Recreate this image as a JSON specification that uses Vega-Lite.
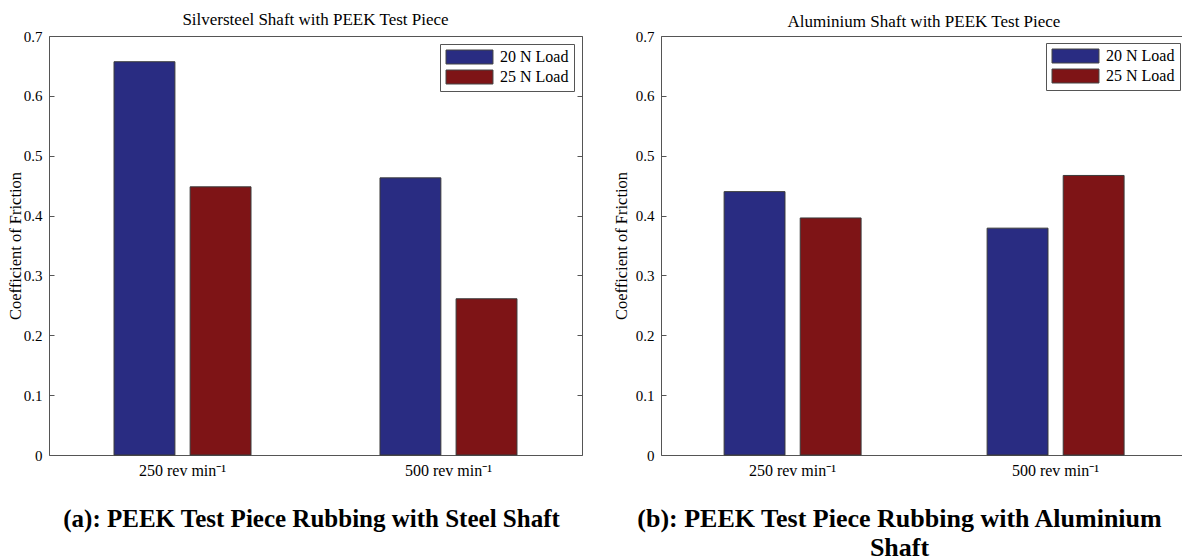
{
  "$schema": "https://vega.github.io/schema/vega-lite/v6.json",
  "padding": {"left": 6, "top": 10, "right": 0, "bottom": 0},
  "background": "white",
  "spacing": 29,
  "align": "none",
  "resolve": {"scale": {"color": "independent"}, "legend": {"color": "independent"}},
  "config": {
    "font": "Liberation Serif",
    "view": {"stroke": "#555555", "strokeWidth": 1},
    "axis": {"labelColor": "black", "titleColor": "black", "labelFont": "Liberation Serif", "titleFont": "Liberation Serif", "grid": false, "domain": false, "tickColor": "#555555"},
    "title": {"font": "Liberation Serif", "fontWeight": "normal", "color": "black"}
  },
  "datasets": {
    "steel": [
      {"speed": "250 rev min⁻¹", "load": "20 N Load", "cof": 0.657},
      {"speed": "250 rev min⁻¹", "load": "25 N Load", "cof": 0.448},
      {"speed": "500 rev min⁻¹", "load": "20 N Load", "cof": 0.463},
      {"speed": "500 rev min⁻¹", "load": "25 N Load", "cof": 0.261}
    ],
    "alu": [
      {"speed": "250 rev min⁻¹", "load": "20 N Load", "cof": 0.44},
      {"speed": "250 rev min⁻¹", "load": "25 N Load", "cof": 0.396},
      {"speed": "500 rev min⁻¹", "load": "20 N Load", "cof": 0.379},
      {"speed": "500 rev min⁻¹", "load": "25 N Load", "cof": 0.467}
    ]
  },
  "hconcat": [
    {
      "width": 533,
      "height": 419,
      "data": {"name": "steel"},
      "title": {"text": "Silversteel Shaft with PEEK Test Piece", "fontSize": 17, "offset": 0},
      "layer": [
        {
          "mark": {"type": "bar", "stroke": "#3a3a3a", "strokeWidth": 1},
          "encoding": {
            "x": {"field": "speed", "type": "nominal", "sort": null,
              "scale": {"paddingInner": 0.485, "paddingOuter": 0.2445},
              "axis": {"labelAngle": 0, "ticks": false, "labelFontSize": 16, "labelPadding": 7,
                "title": "(a): PEEK Test Piece Rubbing with Steel Shaft", "titleFontSize": 25, "titleFontWeight": "bold", "titlePadding": 28, "titleX": 262}},
            "xOffset": {"field": "load", "type": "nominal", "scale": {"paddingInner": 0.2, "paddingOuter": 0}},
            "y": {"field": "cof", "type": "quantitative", "scale": {"domain": [0, 0.7], "nice": false},
              "axis": {"values": [0, 0.1, 0.2, 0.3, 0.4, 0.5, 0.6, 0.7], "format": "~g", "tickSize": -5, "labelPadding": 12, "labelFontSize": 15,
                "title": "Coefficient of Friction", "titleFontSize": 16.5, "titleFontWeight": "normal", "titlePadding": 0}},
            "color": {"field": "load", "type": "nominal",
              "scale": {"domain": ["20 N Load", "25 N Load"], "range": ["#292c82", "#7e1416"]},
              "legend": {"title": null, "orient": "top-right", "offset": 8, "padding": 5, "strokeColor": "#555555", "fillColor": "white",
                "symbolType": "M-1,-1H5.71V1H-1Z", "symbolSize": 196, "symbolStrokeColor": "#444444", "symbolStrokeWidth": 1, "symbolOpacity": 1,
                "labelFont": "Liberation Serif", "labelFontSize": 16, "labelColor": "black", "labelOffset": 39, "rowPadding": 2}}
          }
        },
        {
          "mark": {"type": "bar", "opacity": 0},
          "encoding": {
            "x": {"field": "speed", "type": "nominal", "sort": null,
              "axis": {"labelAngle": 0, "ticks": false, "labelFontSize": 16, "labelPadding": 7,
                "title": "(a): PEEK Test Piece Rubbing with Steel Shaft", "titleFontSize": 25, "titleFontWeight": "bold", "titlePadding": 28, "titleX": 262}},
            "xOffset": {"field": "load", "type": "nominal"},
            "y": {"field": "cof", "type": "quantitative", "axis": {"orient": "right", "values": [0, 0.1, 0.2, 0.3, 0.4, 0.5, 0.6, 0.7], "labels": false, "tickSize": -5, "title": null}}
          }
        }
      ],
      "resolve": {"axis": {"y": "independent"}}
    },
    {
      "width": 526,
      "height": 419,
      "data": {"name": "alu"},
      "title": {"text": "Aluminium Shaft with PEEK Test Piece", "fontSize": 17, "offset": -2},
      "layer": [
        {
          "mark": {"type": "bar", "stroke": "#3a3a3a", "strokeWidth": 1},
          "encoding": {
            "x": {"field": "speed", "type": "nominal", "sort": null,
              "scale": {"paddingInner": 0.48, "paddingOuter": 0.24},
              "axis": {"labelAngle": 0, "ticks": false, "labelFontSize": 16, "labelPadding": 7,
                "title": ["(b): PEEK Test Piece Rubbing with Aluminium", "Shaft"], "titleFontSize": 26, "titleFontWeight": "bold", "titleLineHeight": 29, "titlePadding": 27, "titleX": 238}},
            "xOffset": {"field": "load", "type": "nominal", "scale": {"paddingInner": 0.2, "paddingOuter": 0}},
            "y": {"field": "cof", "type": "quantitative", "scale": {"domain": [0, 0.7], "nice": false},
              "axis": {"values": [0, 0.1, 0.2, 0.3, 0.4, 0.5, 0.6, 0.7], "format": "~g", "tickSize": -5, "labelPadding": 12, "labelFontSize": 15,
                "title": "Coefficient of Friction", "titleFontSize": 16.5, "titleFontWeight": "normal", "titlePadding": 6}},
            "color": {"field": "load", "type": "nominal",
              "scale": {"domain": ["20 N Load", "25 N Load"], "range": ["#292c82", "#7e1416"]},
              "legend": {"title": null, "orient": "top-right", "offset": 7, "padding": 5, "strokeColor": "#555555", "fillColor": "white",
                "symbolType": "M-1,-1H5.71V1H-1Z", "symbolSize": 196, "symbolStrokeColor": "#444444", "symbolStrokeWidth": 1, "symbolOpacity": 1,
                "labelFont": "Liberation Serif", "labelFontSize": 16, "labelColor": "black", "labelOffset": 39, "rowPadding": 2}}
          }
        },
        {
          "mark": {"type": "bar", "opacity": 0},
          "encoding": {
            "x": {"field": "speed", "type": "nominal", "sort": null,
              "axis": {"labelAngle": 0, "ticks": false, "labelFontSize": 16, "labelPadding": 7,
                "title": ["(b): PEEK Test Piece Rubbing with Aluminium", "Shaft"], "titleFontSize": 26, "titleFontWeight": "bold", "titleLineHeight": 29, "titlePadding": 27, "titleX": 238}},
            "xOffset": {"field": "load", "type": "nominal"},
            "y": {"field": "cof", "type": "quantitative", "axis": {"orient": "right", "values": [0, 0.1, 0.2, 0.3, 0.4, 0.5, 0.6, 0.7], "labels": false, "tickSize": -5, "title": null}}
          }
        }
      ],
      "resolve": {"axis": {"y": "independent"}}
    }
  ]
}
